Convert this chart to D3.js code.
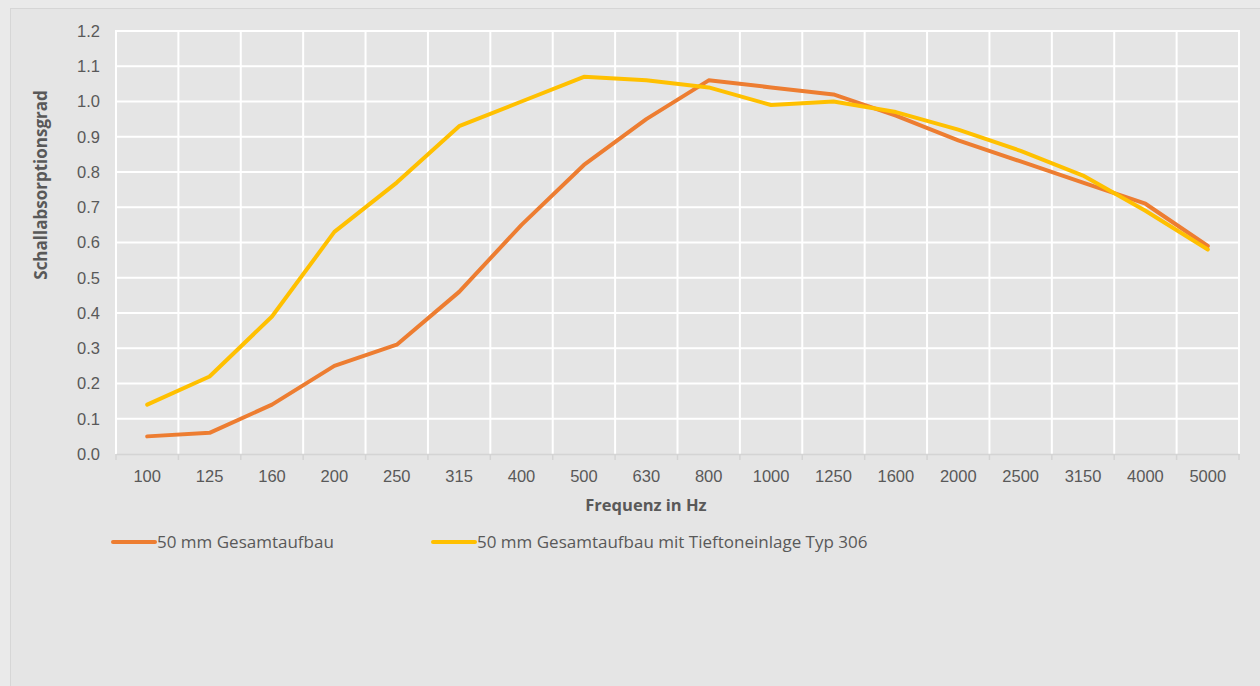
<!DOCTYPE html>
<html>
<head>
<meta charset="utf-8">
<script src="https://cdn.jsdelivr.net/npm/d3@7"></script>
<style>
  body { margin: 0; background: #eaeaea; }
  svg { display: block; font-family: "Open Sans", "Noto Sans", sans-serif; }
</style>
</head>
<body>
<svg id="container"></svg>
<script>
const frequencies = ["100", "125", "160", "200", "250", "315", "400", "500", "630", "800",
                     "1000", "1250", "1600", "2000", "2500", "3150", "4000", "5000"]

// Schallabsorptionsgrad
const gesamtaufbau = [0.05, 0.06, 0.14, 0.25, 0.31, 0.46, 0.65, 0.82, 0.95, 1.06,
                      1.04, 1.02, 0.96, 0.89, 0.83, 0.77, 0.71, 0.59]
const mitTieftoneinlage = [0.14, 0.22, 0.39, 0.63, 0.77, 0.93, 1.00, 1.07, 1.06, 1.04,
                           0.99, 1.00, 0.97, 0.92, 0.86, 0.79, 0.69, 0.58]

const yTicks = [0, 0.1, 0.2, 0.3, 0.4, 0.5, 0.6, 0.7, 0.8, 0.9, 1.0, 1.1, 1.2]

const series = [
  { name: "50 mm Gesamtaufbau", values: gesamtaufbau, color: "#ED7D31", legendX: 113 },
  { name: "50 mm Gesamtaufbau mit Tieftoneinlage Typ 306", values: mitTieftoneinlage, color: "#FFC000", legendX: 433 }
]

const setup = () => {
  const W = 1260, H = 686
  const plot = { left: 116, right: 1239, top: 31, bottom: 454 }

  const svg = d3.select("#container")
    .attr("width", W)
    .attr("height", H)

  // chart frame
  svg.append("rect")
     .attr("x", 10.5).attr("y", 8.5)
     .attr("width", W).attr("height", H)
     .attr("fill", "#e5e5e5")
     .attr("stroke", "#d6d6d6")
     .attr("stroke-width", 1)

  const x = d3.scaleBand()
    .domain(frequencies)
    .range([plot.left, plot.right])
    .paddingInner(0).paddingOuter(0)

  const y = d3.scaleLinear()
    .domain([0, 1.2])
    .range([plot.bottom, plot.top])

  const grid = svg.append("g")

  // horizontal grid
  grid.selectAll("line.h")
    .data(yTicks.filter(d => d > 0))
    .join("line")
      .attr("x1", plot.left).attr("x2", plot.right)
      .attr("y1", d => y(d)).attr("y2", d => y(d))
      .attr("stroke", "#ffffff")
      .attr("stroke-width", 2)

  // vertical grid at category borders
  const borders = frequencies.map(f => x(f)).concat([plot.right])
  grid.selectAll("line.v")
    .data(borders)
    .join("line")
      .attr("x1", d => d).attr("x2", d => d)
      .attr("y1", plot.top - 1).attr("y2", plot.bottom)
      .attr("stroke", "#ffffff")
      .attr("stroke-width", 2)

  // x axis
  const xAxis = svg.append("g")
    .attr("transform", `translate(0,${plot.bottom})`)
    .call(d3.axisBottom(x).tickSize(0).tickPadding(16))
  xAxis.select(".domain").attr("stroke", "#d4d4d4").attr("stroke-width", 1.5)
  xAxis.selectAll("text")
    .attr("fill", "#595959")
    .style("font-size", "16.5px")
    .attr("dy", "0.71em")

  xAxis.selectAll("line.tk")
    .data(borders)
    .join("line")
      .attr("class", "tk")
      .attr("x1", d => d).attr("x2", d => d)
      .attr("y1", 0).attr("y2", 6)
      .attr("stroke", "#d4d4d4")
      .attr("stroke-width", 1.5)

  // y axis
  const yAxis = svg.append("g")
    .attr("transform", `translate(${plot.left},0)`)
    .call(d3.axisLeft(y).tickValues(yTicks).tickFormat(d3.format(".1f")).tickSize(0).tickPadding(16))
  yAxis.select(".domain").remove()
  yAxis.selectAll("text")
    .attr("fill", "#595959")
    .style("font-size", "16.5px")

  // axis titles
  svg.append("text")
     .attr("x", 646).attr("y", 511)
     .attr("text-anchor", "middle")
     .attr("fill", "#595959")
     .style("font-size", "16.5px")
     .style("font-weight", "bold")
     .text("Frequenz in Hz")

  svg.append("text")
     .attr("transform", `translate(47,185) rotate(-90)`)
     .attr("text-anchor", "middle")
     .attr("fill", "#595959")
     .style("font-size", "17px")
     .style("font-weight", "bold")
     .text("Schallabsorptionsgrad")

  // lines
  const line = d3.line()
    .x((d, i) => x(frequencies[i]) + x.bandwidth() / 2)
    .y(d => y(d))

  for (let s of series) {
    svg.append("path")
       .attr("d", line(s.values))
       .attr("fill", "none")
       .attr("stroke", s.color)
       .attr("stroke-width", 4)
       .attr("stroke-linejoin", "round")
       .attr("stroke-linecap", "round")
  }

  // legend
  for (let s of series) {
    svg.append("line")
       .attr("x1", s.legendX).attr("x2", s.legendX + 42)
       .attr("y1", 542).attr("y2", 542)
       .attr("stroke", s.color)
       .attr("stroke-width", 4)
       .attr("stroke-linecap", "round")
    svg.append("text")
       .attr("x", s.legendX + 44).attr("y", 548)
       .attr("fill", "#595959")
       .style("font-size", "17px")
       .text(s.name)
  }
}

document.addEventListener("DOMContentLoaded", setup)
</script>
</body>
</html>
